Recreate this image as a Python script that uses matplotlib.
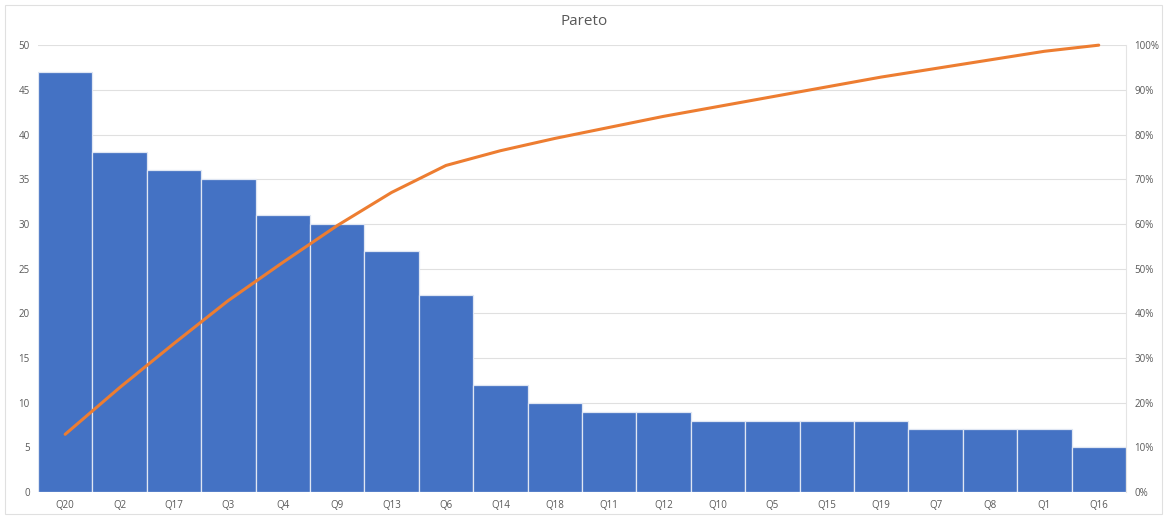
import numpy as np
import matplotlib.pyplot as plt
from matplotlib.patches import Rectangle
from matplotlib.ticker import PercentFormatter

# Données du graphique
categorias = ["Q20", "Q2", "Q17", "Q3", "Q4", "Q9", "Q13", "Q6", "Q14", "Q18",
              "Q11", "Q12", "Q10", "Q5", "Q15", "Q19", "Q7", "Q8", "Q1", "Q16"]
valores = [47, 38, 36, 35, 31, 30, 27, 22, 12, 10, 9, 9, 8, 8, 8, 8, 7, 7, 7, 5]

# Cumulé en pourcentage
cumul = np.cumsum(valores) / np.sum(valores) * 100

plt.rcParams['font.family'] = ['Open Sans', 'DejaVu Sans']
cinza = "#595959"

fig = plt.figure(figsize=(11.68, 5.19), dpi=100)
ax = fig.add_axes([0.0325, 0.052, 0.9315, 0.861])

x = np.arange(len(categorias))
ax.bar(x, valores, width=1.0, color="#4472C4", edgecolor="#dfe6f3", linewidth=0.9, zorder=2)
ax.set_xlim(-0.5, len(categorias) - 0.5)
ax.set_ylim(0, 50)
ax.set_yticks(range(0, 51, 5))
ax.set_xticks(x)
ax.set_xticklabels(categorias)
ax.grid(axis="y", color="#e0e0e0", linewidth=0.8, zorder=0)
ax.tick_params(axis="both", length=0, labelsize=7, colors=cinza, pad=6)
for s in ["top", "left", "bottom"]:
    ax.spines[s].set_visible(False)
ax.spines["right"].set_color("#e4e4e4")

ax2 = ax.twinx()
ax2.plot(x, cumul, color="#ED7D31", linewidth=2.2, zorder=3, clip_on=False,
         solid_capstyle="round")
ax2.set_ylim(0, 100)
ax2.set_yticks(range(0, 101, 10))
ax2.yaxis.set_major_formatter(PercentFormatter(decimals=0))
ax2.tick_params(axis="y", length=0, labelsize=7, colors=cinza, pad=6)
for s in ax2.spines.values():
    s.set_visible(False)

fig.text(0.5, 0.958, "Pareto", ha="center", va="center", fontsize=11, color=cinza)

# Cadre extérieur
fig.patches.append(Rectangle((0.004, 0.01), 0.991, 0.98, transform=fig.transFigure,
                             fill=False, edgecolor="#e0e0e0", linewidth=0.8))

fig.savefig("out.png", dpi=100)
